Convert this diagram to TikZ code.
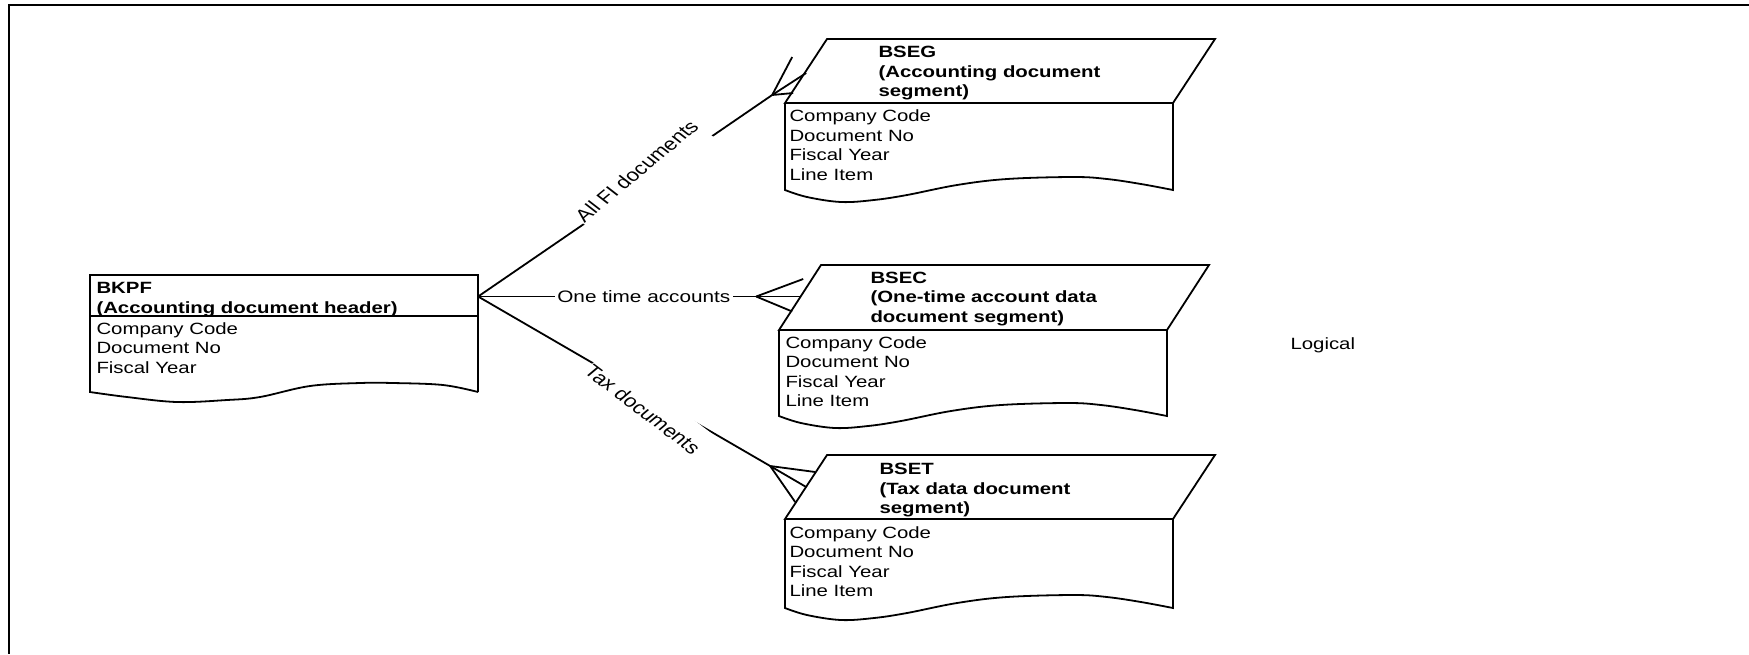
\documentclass[tikz,border=0pt]{standalone}
\usepackage{fontspec}
\setmainfont{Liberation Sans}
\tikzset{
  txt/.style={anchor=base west, inner sep=0pt, font=\fontsize{8.15}{9.75}\selectfont},
  hdr/.style={txt, font=\fontsize{8.15}{9.75}\selectfont\bfseries},
  lbl/.style={fill=white, inner sep=1pt, font=\fontsize{8.3}{9.75}\selectfont},
  slbl/.style={fill=white, anchor=base west, inner xsep=0.5pt, inner ysep=4.5pt, font=\fontsize{8.9}{10}\selectfont},
  ent/.style={line width=0.9pt, line join=miter},
  rel/.style={line width=0.9pt}
}
\begin{document}
\begin{tikzpicture}[x=0.4pt, y=-0.5pt, xscale=1.25, every node/.append style={transform shape}]
\useasboundingbox (0,0) rectangle (1749,654);
\draw[line width=1.1pt] (1749,5) -- (9,5) -- (9,654);
% BKPF
\draw[ent] (478,392) -- (478,275) -- (90,275) -- (90,392) -- plot[smooth, tension=0.6] coordinates {(90,392) (127,397) (177,402) (227,400) (260,397) (310,386) (360,383) (393,383) (443,385) (478,392)};
\draw[ent] (90,316) -- (478,316);
\node[hdr] (bkpf-t1) at (96,293) {BKPF};
\node[hdr] (bkpf-t2) at (96,313) {(Accounting document header)};
\node[txt] (bkpf-f1) at (96,334) {Company Code};
\node[txt] (bkpf-f2) at (96,353) {Document No};
\node[txt] (bkpf-f3) at (96,373) {Fiscal Year};
% BSEG
\draw[ent] (827,39) -- (1215,39) -- (1173,103) -- (785,103) -- cycle;
\draw[ent] (785,103) -- (785,190) -- plot[smooth, tension=0.6] coordinates {(785,190) (807,197) (841,202) (874,200) (907,195) (957,185) (1007,179) (1074,177) (1107,179) (1141,184) (1173,190)} -- (1173,103);
\node[hdr] (bseg-t1) at (878,57.5) {BSEG};
\node[hdr] (bseg-t2) at (878,77) {(Accounting document};
\node[hdr] (bseg-t3) at (878,96.5) {segment)};
\node[txt] (bseg-f1) at (789,121.5) {Company Code};
\node[txt] (bseg-f2) at (789,141) {Document No};
\node[txt] (bseg-f3) at (789,160.5) {Fiscal Year};
\node[txt] (bseg-f4) at (789,180) {Line Item};
% BSEC
\draw[ent] (821,265) -- (1209,265) -- (1167,330) -- (779,330) -- cycle;
\draw[ent] (779,330) -- (779,416) -- plot[smooth, tension=0.6] coordinates {(779,416) (801,423) (835,428) (868,426) (901,421) (951,411) (1001,405) (1068,403) (1101,405) (1135,410) (1167,416)} -- (1167,330);
\node[hdr] (bsec-t1) at (870,283) {BSEC};
\node[hdr] (bsec-t2) at (870,302.5) {(One-time account data};
\node[hdr] (bsec-t3) at (870,322) {document segment)};
\node[txt] (bsec-f1) at (785,348) {Company Code};
\node[txt] (bsec-f2) at (785,367.5) {Document No};
\node[txt] (bsec-f3) at (785,387) {Fiscal Year};
\node[txt] (bsec-f4) at (785,406.5) {Line Item};
% BSET
\draw[ent] (827,455) -- (1215,455) -- (1173,519) -- (785,519) -- cycle;
\draw[ent] (785,519) -- (785,608) -- plot[smooth, tension=0.6] coordinates {(785,608) (807,615) (841,620) (874,618) (907,613) (957,603) (1007,597) (1074,595) (1107,597) (1141,602) (1173,608)} -- (1173,519);
\node[hdr] (bset-t1) at (879,474.5) {BSET};
\node[hdr] (bset-t2) at (879,494) {(Tax data document};
\node[hdr] (bset-t3) at (879,513.5) {segment)};
\node[txt] (bset-f1) at (789,538) {Company Code};
\node[txt] (bset-f2) at (789,557.5) {Document No};
\node[txt] (bset-f3) at (789,577) {Fiscal Year};
\node[txt] (bset-f4) at (789,596.5) {Line Item};
\node[txt] (logical) at (1290,349) {Logical};
% relationships
\coordinate (bkpf-e) at (478,296.5);
\coordinate (bseg-foot) at (772,95);
\coordinate (bseg-c1) at (792,57);
\coordinate (bseg-c2) at (806,73);
\coordinate (bseg-c3) at (793,93);
\coordinate (bsec-foot) at (756,296.5);
\coordinate (bsec-c1) at (803,279);
\coordinate (bsec-c2) at (800,296.5);
\coordinate (bsec-c3) at (792,311.5);
\coordinate (bset-foot) at (770,466);
\coordinate (bset-c1) at (815,472);
\coordinate (bset-c2) at (806,487);
\coordinate (bset-c3) at (795,502);
\draw[rel] (bkpf-e) -- node[slbl, pos=0.357, rotate=46, inner ysep=7.5pt] (lab-fi) {All FI documents} (bseg-foot);
\draw[rel] (bseg-foot) -- (bseg-c1);
\draw[rel] (bseg-foot) -- (bseg-c2);
\draw[rel] (bseg-foot) -- (bseg-c3);
\draw[rel] (bkpf-e) -- node[lbl, pos=0.596] (lab-ota) {One time accounts} (bsec-foot);
\draw[rel] (bsec-foot) -- (bsec-c1);
\draw[rel] (bsec-foot) -- (bsec-c2);
\draw[rel] (bsec-foot) -- (bsec-c3);
\draw[rel] (bkpf-e) -- node[slbl, pos=0.39, rotate=-43.5, yshift=-6.2pt, inner ysep=7pt] (lab-tax) {Tax documents} (bset-foot);
\draw[rel] (bset-foot) -- (bset-c1);
\draw[rel] (bset-foot) -- (bset-c2);
\draw[rel] (bset-foot) -- (bset-c3);
\end{tikzpicture}
\end{document}
